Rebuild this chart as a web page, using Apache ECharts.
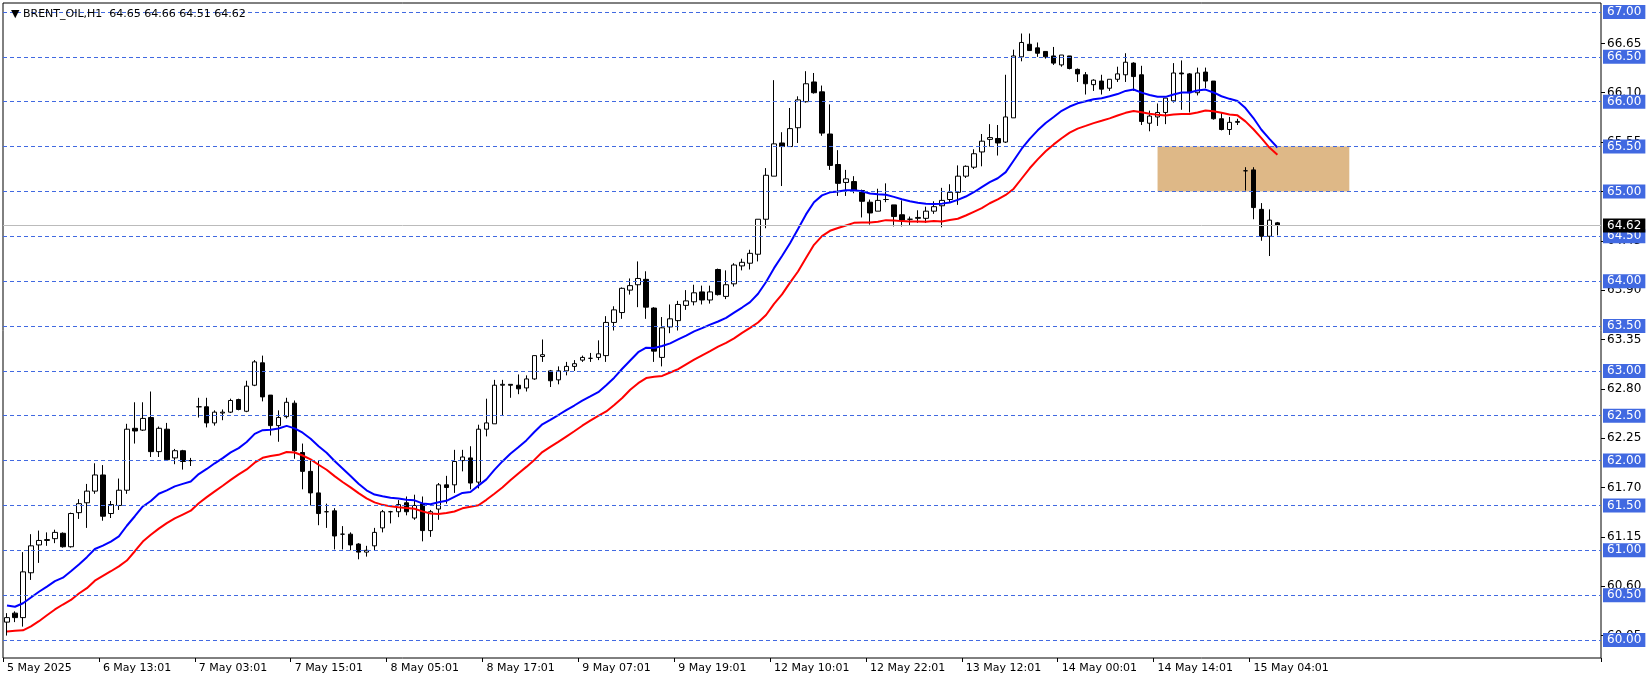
<!DOCTYPE html>
<html>
<head>
<meta charset="utf-8">
<script src="https://cdn.jsdelivr.net/npm/echarts@6/dist/echarts.min.js"></script>
<style>
  html, body { margin: 0; padding: 0; background: #fff; }
  #chart { width: 1651px; height: 682px; }
</style>
</head>
<body>
<div id="chart"></div>
<script>
// H1 bars
const open = [60.20,60.30,60.25,60.75,61.06,61.11,61.13,61.19,61.04,61.42,61.53,61.66,61.84,61.41,61.50,61.67,62.36,62.34,62.48,62.10,
  62.35,62.03,62.11,62.00,62.60,62.60,62.42,62.53,62.54,62.68,62.55,62.84,63.09,62.73,62.39,62.49,62.64,62.09,61.88,61.64,
  61.43,61.44,61.18,61.18,61.07,60.98,61.05,61.25,61.43,61.43,61.53,61.36,61.52,61.22,61.46,61.73,61.73,62.00,62.03,61.76,
  62.35,62.41,62.84,62.85,62.84,62.81,62.91,63.16,63.00,62.90,63.00,63.05,63.12,63.14,63.15,63.17,63.54,63.65,63.90,63.96,
  64.02,63.70,63.15,63.49,63.56,63.73,63.77,63.88,63.79,64.13,63.83,63.97,64.17,64.20,64.30,64.69,65.17,65.54,65.50,65.71,
  66.00,66.22,66.11,65.64,65.30,65.10,65.11,65.01,64.88,64.78,64.91,64.85,64.74,64.69,64.70,64.70,64.78,64.84,64.91,64.99,
  65.17,65.27,65.44,65.58,65.59,65.55,65.82,66.50,66.64,66.60,66.56,66.51,66.41,66.51,66.36,66.30,66.19,66.23,66.15,66.25,
  66.30,66.43,66.30,65.76,65.83,65.88,66.01,66.32,66.31,66.10,66.33,66.23,65.81,65.69,65.77,65.23,65.24,64.80,64.50,64.65];
const high = [60.30,60.32,60.98,61.18,61.22,61.20,61.23,61.20,61.42,61.57,61.74,61.97,61.95,61.55,61.80,62.41,62.65,62.65,62.77,62.38,
  62.42,62.13,62.12,62.03,62.70,62.70,62.56,62.57,62.69,62.69,62.89,63.12,63.17,62.73,62.56,62.70,62.67,62.19,62.00,62.00,
  61.52,61.47,61.27,61.20,61.08,61.05,61.25,61.45,61.44,61.56,61.60,61.62,61.60,61.45,61.75,61.83,62.12,62.12,62.16,62.40,
  62.69,62.90,62.90,62.85,62.96,62.95,63.17,63.35,63.01,63.05,63.10,63.12,63.17,63.20,63.34,63.61,63.72,63.93,64.03,64.22,
  64.11,63.71,63.60,63.74,63.78,63.90,63.96,63.95,63.95,64.14,64.12,64.20,64.25,64.35,64.69,65.26,66.24,65.66,65.93,66.06,
  66.34,66.32,66.18,65.97,65.46,65.24,65.17,65.02,64.91,65.03,65.09,64.85,64.90,64.72,64.79,64.83,64.89,65.04,65.08,65.29,
  65.29,65.47,65.64,65.75,65.74,66.30,66.58,66.76,66.76,66.66,66.56,66.61,66.52,66.51,66.37,66.33,66.25,66.30,66.25,66.39,
  66.54,66.44,66.40,65.90,65.98,66.04,66.43,66.46,66.32,66.38,66.38,66.23,65.88,65.83,65.81,65.27,65.27,64.87,64.80,64.66];
const low = [60.05,60.20,60.15,60.67,60.86,61.05,61.08,61.03,61.03,61.35,61.25,61.63,61.33,61.36,61.45,61.63,62.19,62.33,62.04,62.04,
  62.00,61.96,61.90,61.94,62.48,62.37,62.39,62.45,62.53,62.56,62.54,62.83,62.66,62.28,62.21,62.47,62.02,61.68,61.50,61.28,
  61.25,61.01,61.01,61.00,60.90,60.93,61.00,61.20,61.30,61.37,61.39,61.34,61.10,61.15,61.34,61.52,61.64,61.88,61.68,61.69,
  62.27,62.41,62.50,62.70,62.74,62.77,62.90,63.10,62.82,62.85,62.95,63.00,63.10,63.10,63.12,63.10,63.45,63.58,63.85,63.71,
  63.58,63.10,63.05,63.42,63.45,63.68,63.73,63.74,63.75,63.84,63.80,63.94,64.12,64.13,64.22,64.59,65.17,65.06,65.50,65.54,
  65.99,66.09,65.62,65.24,64.95,64.95,64.98,64.71,64.63,64.78,64.88,64.61,64.61,64.62,64.65,64.65,64.75,64.60,64.88,64.85,
  65.15,65.25,65.28,65.50,65.40,65.54,65.82,66.45,66.57,66.50,66.48,66.41,66.39,66.36,66.22,66.08,66.12,66.08,66.12,66.22,
  66.22,66.12,65.74,65.67,65.73,65.75,65.99,65.91,65.88,66.07,66.15,65.80,65.68,65.63,65.74,65.01,64.69,64.45,64.28,64.51];
const close = [60.25,60.25,60.76,61.05,61.11,61.12,61.20,61.04,61.41,61.52,61.66,61.84,61.38,61.51,61.67,62.35,62.33,62.47,62.10,62.36,
  62.01,62.11,61.99,62.00,62.60,62.42,62.54,62.54,62.67,62.57,62.83,63.10,62.71,62.39,62.48,62.65,62.11,61.88,61.64,61.41,
  61.43,61.16,61.18,61.06,60.98,61.00,61.20,61.43,61.43,61.51,61.43,61.50,61.22,61.43,61.73,61.70,61.99,62.04,61.75,62.35,
  62.42,62.84,62.85,62.84,62.80,62.91,63.17,63.18,62.89,63.00,63.05,63.08,63.15,63.14,63.19,63.54,63.68,63.92,63.95,64.03,
  63.71,63.22,63.48,63.58,63.74,63.78,63.87,63.79,63.88,63.85,63.96,64.18,64.21,64.31,64.69,65.18,65.53,65.50,65.70,66.02,
  66.20,66.10,65.65,65.29,65.09,65.14,65.01,64.89,64.76,64.90,64.91,64.72,64.68,64.69,64.71,64.78,64.83,64.90,64.99,65.17,
  65.28,65.42,65.56,65.60,65.54,65.83,66.51,66.66,66.57,66.54,66.50,66.43,66.52,66.37,66.31,66.20,66.24,66.14,66.25,66.31,
  66.44,66.28,65.78,65.84,65.88,66.04,66.32,66.31,66.10,66.32,66.23,65.81,65.69,65.77,65.78,65.23,64.82,64.50,64.68,64.62];

const tickLabels = ['5 May 2025','6 May 13:01','7 May 03:01','7 May 15:01','8 May 05:01','8 May 17:01','9 May 07:01',
  '9 May 19:01','12 May 10:01','12 May 22:01','13 May 12:01','14 May 00:01','14 May 14:01','15 May 04:01'];
const labelStep = 12;
const slots = 200;

const priceLabels = [60.05,60.60,61.15,61.70,62.25,62.80,63.35,63.90,64.45,65.00,65.55,66.10,66.65];
const levels = [60.0,60.5,61.0,61.5,62.0,62.5,63.0,63.5,64.0,64.5,65.0,65.5,66.0,66.5,67.0];
const lastPrice = 64.62;
const zone = { from: 144, to: 168, top: 65.5, bottom: 65.0 };
const maStart = [60.40, 60.10];

const cats = Array.from({ length: slots }, (_, i) => String(i));
const candles = open.map((o, i) => [o, close[i], low[i], high[i]]);

function ema(src, period, seed) {
  const k = 2 / (period + 1);
  let v = seed;
  return src.map(x => (v = v + k * (x - v), +v.toFixed(3)));
}
const blue = ema(close, 19, maStart[0]);
const red = ema(low, 24, maStart[1]);

const chart = echarts.init(document.getElementById('chart'));
const blueBox = '#4169e1';
chart.setOption({
  animation: false,
  textStyle: { fontFamily: 'DejaVu Sans' },
  title: {
    text: '▼ BRENT_OIL,H1  64.65 64.66 64.51 64.62',
    left: 6, top: 4,
    textStyle: { fontSize: 11, fontWeight: 'normal', color: '#000' }
  },
  grid: { left: 3, right: 50, top: 3, bottom: 24, show: true, borderColor: '#000', borderWidth: 1 },
  xAxis: {
    type: 'category', data: cats, boundaryGap: true,
    axisLine: { show: false },
    axisTick: { show: true, interval: i => i % labelStep === 0 && i / labelStep < tickLabels.length, length: 4, lineStyle: { color: '#000' } },
    axisLabel: {
      interval: 0, align: 'left', fontSize: 11, color: '#000', margin: 5,
      formatter: (v, i) => (i % labelStep === 0 && tickLabels[i / labelStep]) ? tickLabels[i / labelStep] : ''
    },
    splitLine: { show: false }
  },
  yAxis: {
    type: 'value', position: 'right', min: 59.8, max: 67.1, scale: true,
    axisLine: { show: false },
    axisTick: { show: true, customValues: priceLabels, length: 4, lineStyle: { color: '#000' } },
    axisLabel: { customValues: priceLabels, fontSize: 12, color: '#000', margin: 6, formatter: v => v.toFixed(2) },
    splitLine: { show: false }
  },
  series: [
    {
      type: 'candlestick', data: candles, barWidth: 5,
      itemStyle: { color: '#fff', color0: '#000', borderColor: '#000', borderColor0: '#000', borderWidth: 1 },
      markArea: {
        silent: true,
        itemStyle: { color: '#deb887' },
        data: [[{ xAxis: String(zone.from), yAxis: zone.top }, { xAxis: String(zone.to), yAxis: zone.bottom }]]
      },
      markLine: {
        silent: true, symbol: 'none', animation: false,
        data: levels.map(v => ({
          yAxis: v,
          lineStyle: { color: blueBox, type: [4, 3], width: 1 },
          label: { formatter: v.toFixed(2), backgroundColor: blueBox, color: '#fff', fontSize: 12, padding: [1, 4, 1, 4], distance: 2 }
        })).concat([{
          yAxis: lastPrice,
          lineStyle: { color: '#bbb', type: 'solid', width: 1 },
          label: { formatter: lastPrice.toFixed(2), backgroundColor: '#000', color: '#fff', fontSize: 12, padding: [1, 4, 1, 4], distance: 2 }
        }])
      }
    },
    { type: 'line', data: blue, symbol: 'none', lineStyle: { color: '#0000ff', width: 2 }, z: 3 },
    { type: 'line', data: red, symbol: 'none', lineStyle: { color: '#ff0000', width: 2 }, z: 3 }
  ]
});
</script>
</body>
</html>
